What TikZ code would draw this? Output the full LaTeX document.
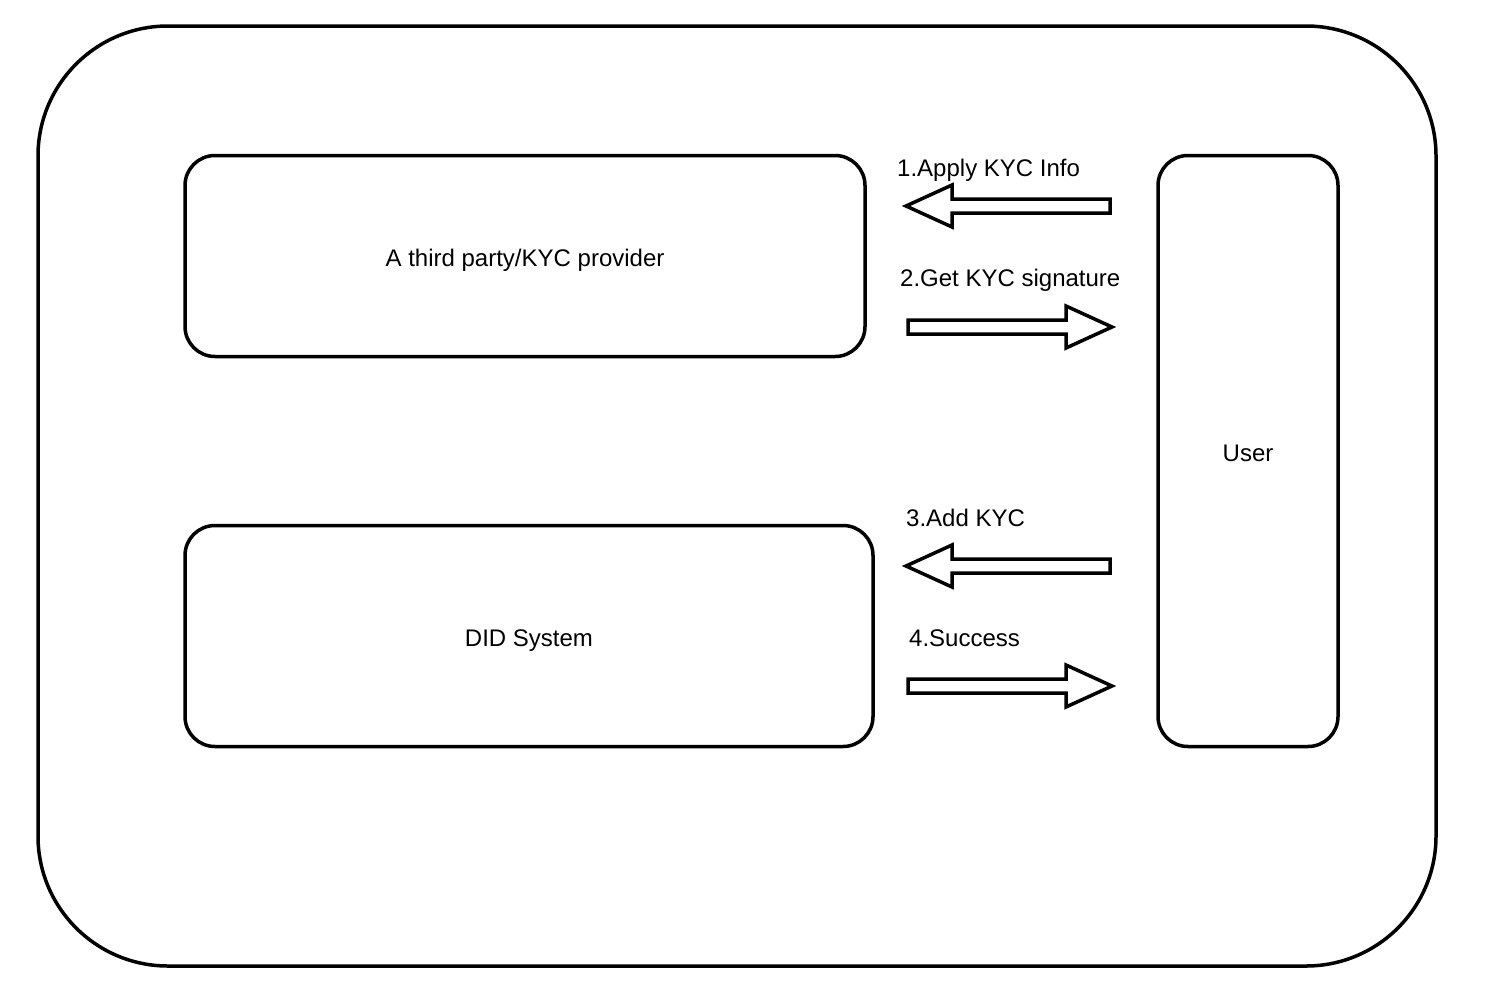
\documentclass[tikz,border=0pt]{standalone}
\usepackage{fontspec}
\setmainfont{Liberation Sans}
\usetikzlibrary{positioning}

\tikzset{
  box/.style={draw,line width=3.5pt,rounded corners=30pt,minimum width=#1,
    text height=21.6pt,text depth=0pt,inner sep=0pt},
  step label/.style={anchor=base west,inner sep=0pt},
  blockarrow/.pic={
    \draw[line width=3.5pt,line join=miter]
      (0,-7) -- (158,-7) -- (158,-21) -- (204,0) -- (158,21) -- (158,7) -- (0,7) -- cycle;
  }
}

\begin{document}
\begin{tikzpicture}
  [x=1pt,y=-1pt,every node/.style={font=\fontsize{24}{28}\selectfont}]
  \useasboundingbox (0,0) rectangle (1490,1004);

  % frame
  \node[draw,line width=3.5pt,rounded corners=130pt,minimum width=1398pt,
        minimum height=940pt] (frame) at (737,496) {};

  % parties
  \node[box=680pt,minimum height=201pt] (kyc)  at (525,256) {A third party/KYC provider};
  \node[box=688pt,minimum height=221pt] (did)  at (529,636) {DID System};
  \node[box=180pt,minimum height=591pt] (user) at (1248,451) {User};

  % steps
  \node[step label] (s1) at (897,176) {1.Apply KYC Info};
  \node[step label] (s2) at (900,286) {2.Get KYC signature};
  \node[step label] (s3) at (906,526) {3.Add KYC};
  \node[step label] (s4) at (909,646) {4.Success};

  \pic[xscale=-1] at (1110,206) {blockarrow};
  \pic            at (908,327)  {blockarrow};
  \pic[xscale=-1] at (1110,566) {blockarrow};
  \pic            at (908,686)  {blockarrow};

\end{tikzpicture}
\end{document}
